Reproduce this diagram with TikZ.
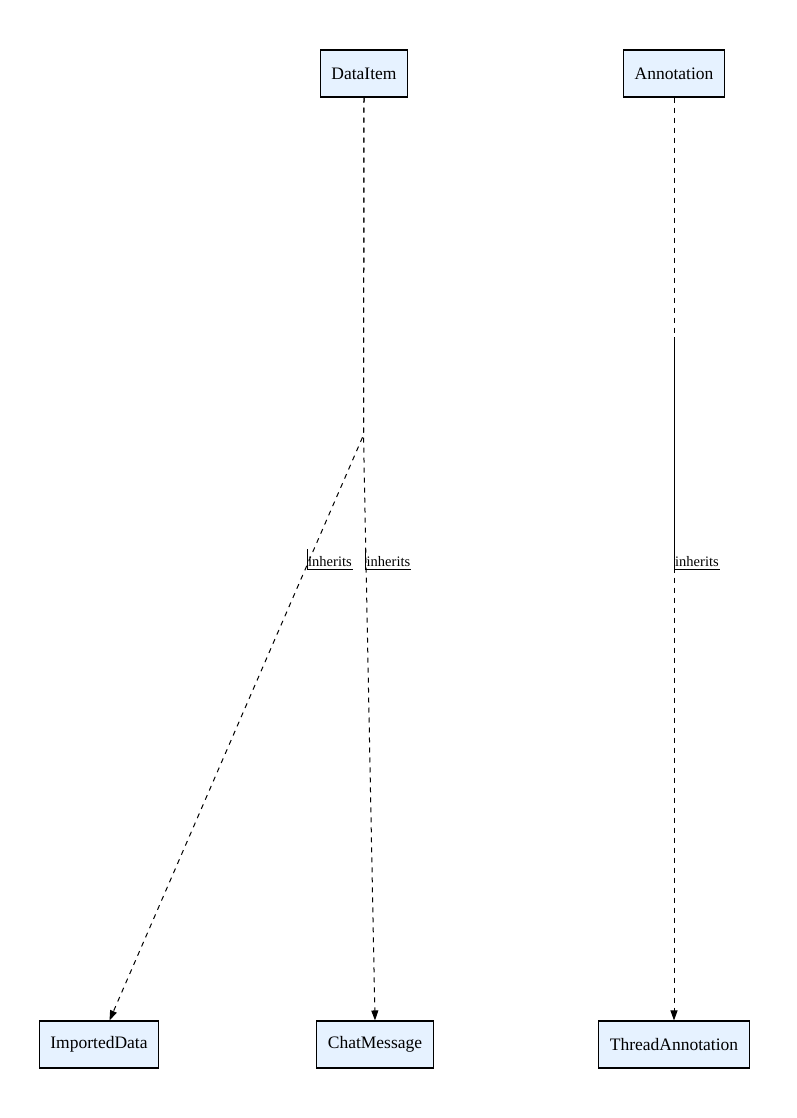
\documentclass[tikz,border=0pt]{standalone}
\usepackage{fontspec}
\setmainfont{Liberation Serif}
\usetikzlibrary{arrows.meta,calc}
\definecolor{boxfill}{HTML}{E6F2FF}
\tikzset{
  cls/.style={draw=black, line width=1.1pt, fill=boxfill, minimum height=47pt, inner xsep=11pt, inner ysep=0pt, font=\fontsize{17.5}{20}\selectfont},
  inh/.style={draw=black, line width=1pt, dash pattern=on 5pt off 5pt, -{Triangle[length=10pt,width=7pt]}},
  deco/.style={draw=black, line width=1pt},
  lbl/.style={anchor=south west, inner xsep=1pt, inner ysep=2.5pt, font=\fontsize{14.5}{16}\selectfont}
}
\begin{document}
\begin{tikzpicture}[x=1pt,y=-1pt]
\useasboundingbox (0,0) rectangle (797,1118);
\node[cls] (di) at (364,73.5) {DataItem};
\node[cls] (an) at (674,73.5) {Annotation};
\node[cls] (imp) at (99,1044.5) {ImportedData};
\node[cls] (chat) at (375,1044.5) {ChatMessage};
\node[cls] (ta) at (674,1044.5) {ThreadAnnotation};
\coordinate (b1) at (363.5,435);
\draw[inh] (di.south) -- (b1) -- ($(imp.north)+(10.5,0)$);
\draw[inh] (di.south) -- (b1) -- (chat.north);
\draw[inh] (an.south) -- (ta.north);
% labels
\coordinate (e1) at (307,549);
\coordinate (e2) at (365.5,548);
\coordinate (e3) at (674,337);
\node[lbl] (l1) at (307,569) {inherits};
\node[lbl] (l2) at (365.5,569) {inherits};
\node[lbl] (l3) at (674,569) {inherits};
\draw[deco] (e1) -- (l1.south west) -- (l1.south east);
\draw[deco] (e2) -- (l2.south west) -- (l2.south east);
\draw[deco] (e3) -- (l3.south west) -- (l3.south east);
\end{tikzpicture}
\end{document}
